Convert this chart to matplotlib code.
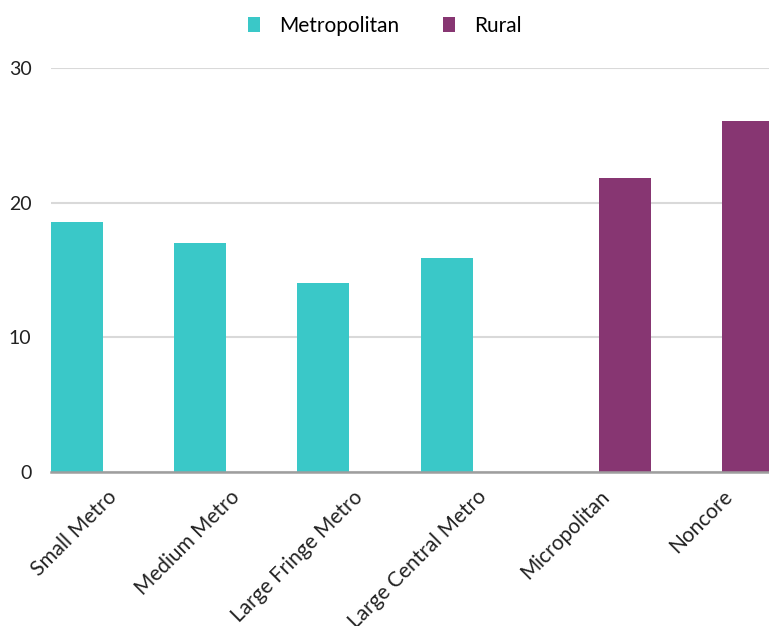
import matplotlib

matplotlib.use("Agg")
import matplotlib.pyplot as plt
import matplotlib.transforms as mtransforms
import numpy as np

plt.rcParams["font.family"] = ["Lato", "DejaVu Sans"]

categories = ["Small Metro", "Medium Metro", "Large Fringe Metro", "Large Central Metro",
              "Micropolitan", "Noncore"]
metro_values = [18.6, 17.0, 14.0, 15.9, np.nan, np.nan]
rural_values = [np.nan, np.nan, np.nan, np.nan, 21.8, 26.1]

TEAL = "#3AC8C8"
PURPLE = "#873672"
WIDTH = 0.423
SHIFT = 0.2236

fig = plt.figure(figsize=(7.69, 6.26), dpi=100)
ax = fig.add_axes([51 / 769, 1 - 472 / 626, 1 - 51 / 769, (472 - 68) / 626])

x = np.arange(len(categories))
ax.bar(x - SHIFT, metro_values, width=WIDTH, color=TEAL, label="Metropolitan", zorder=3)
ax.bar(x + SHIFT, rural_values, width=WIDTH, color=PURPLE, label="Rural", zorder=3)

ax.set_xlim(-SHIFT - WIDTH / 2, x[-1] + (769 - 720.5) / 123)
ax.set_ylim(0, 30)
ax.set_yticks([0, 10, 20, 30])
ax.yaxis.grid(True, color="#d9d9d9", linewidth=1.5, zorder=0)
ax.tick_params(axis="y", length=0, pad=14, labelsize=14, labelcolor="#222222")
ax.tick_params(axis="x", length=0, labelsize=15, labelcolor="#222222")

for s in ["top", "right", "left"]:
    ax.spines[s].set_visible(False)
ax.spines["bottom"].set_color("#9e9e9e")
ax.spines["bottom"].set_linewidth(1.8)
ax.spines["bottom"].set_zorder(4)

ax.set_xticks(x)
ax.set_xticklabels(categories, rotation=45, ha="right", va="center",
                   rotation_mode="anchor")
offset = mtransforms.ScaledTranslation(9 / 100, -17 / 100, fig.dpi_scale_trans)
for lbl in ax.get_xticklabels():
    lbl.set_transform(lbl.get_transform() + offset)

fig.legend(loc="upper center", bbox_to_anchor=(0.5, 1.005), ncol=2, frameon=False,
           fontsize=15, handlelength=0.6, handleheight=0.7, columnspacing=2.1,
           handletextpad=0.9)

fig.savefig("out.png", dpi=100)
